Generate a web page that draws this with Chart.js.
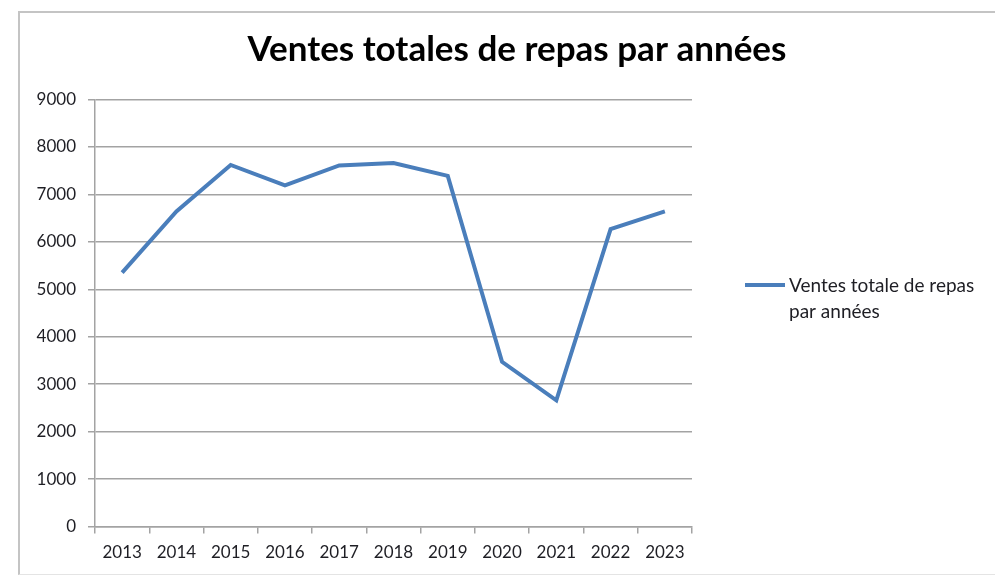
<!DOCTYPE html>
<html>
<head>
<meta charset="utf-8">
<script src="https://cdn.jsdelivr.net/npm/chart.js@4/dist/chart.umd.min.js"></script>
<style>
  html, body { margin: 0; padding: 0; background: #fff; }
  #wrap { position: relative; width: 995px; height: 577px; overflow: hidden; background: #fff; }
  #frame { position: absolute; left: 18px; top: 11px; width: 1100px; height: 564px;
           border-left: 2px solid #c4c4c4; border-top: 2px solid #c4c4c4; border-bottom: 1px solid #e4e4e4; box-sizing: border-box; }
  canvas { position: absolute; left: 0; top: 0; }
</style>
</head>
<body>
<div id="wrap">
  <div id="frame"></div>
  <canvas id="c" width="995" height="577"></canvas>
</div>
<script>
const chartTitle = 'Ventes totales de repas par années';
const seriesLabel = ['Ventes totale de repas', 'par années'];
const years = ['2013', '2014', '2015', '2016', '2017', '2018', '2019', '2020', '2021', '2022', '2023'];
const sales = [5350, 6640, 7620, 7190, 7610, 7660, 7390, 3470, 2660, 6270, 6640];
const yMin = 0;
const yMax = 9000;
const yStep = 1000;

const lineColor = '#4a7ebb';
const axisColor = '#a3a3a3';
const textColor = '#1e1e24';

const decorPlugin = {
  id: 'decor',
  afterDraw(chart) {
    const ctx = chart.ctx;
    const area = chart.chartArea;
    ctx.save();
    // title
    ctx.fillStyle = '#000';
    ctx.font = 'bold 35px Lato';
    ctx.textAlign = 'center';
    ctx.textBaseline = 'middle';
    ctx.fillText(chartTitle, 517, 50);
    // legend
    const x0 = area.right + 53;
    const y0 = 285;
    ctx.strokeStyle = lineColor;
    ctx.lineWidth = 4;
    ctx.lineCap = 'butt';
    ctx.beginPath();
    ctx.moveTo(x0, y0);
    ctx.lineTo(x0 + 40, y0);
    ctx.stroke();
    ctx.fillStyle = textColor;
    ctx.font = '19px Lato';
    ctx.textBaseline = 'middle';
    ctx.textAlign = 'left';
    seriesLabel.forEach((t, i) => ctx.fillText(t, x0 + 44, y0 + 1 + i * 26));
    ctx.restore();
  }
};

new Chart(document.getElementById('c'), {
  type: 'line',
  data: {
    labels: years,
    datasets: [{
      label: seriesLabel.join(' '),
      data: sales,
      borderColor: lineColor,
      backgroundColor: lineColor,
      borderWidth: 4,
      pointRadius: 0,
      tension: 0,
      fill: false
    }]
  },
  options: {
    responsive: false,
    animation: false,
    layout: { padding: { left: 0, right: 303, top: 99.5, bottom: 0 } },
    plugins: {
      legend: { display: false },
      tooltip: { enabled: false },
      title: { display: false }
    },
    scales: {
      x: {
        type: 'category',
        offset: true,
        grid: { offset: true, drawOnChartArea: false, drawTicks: true, tickLength: 7, color: axisColor, lineWidth: 1.5 },
        border: { display: true, color: axisColor, width: 1.5 },
        ticks: { color: textColor, font: { family: 'Lato', size: 17 }, padding: 9, maxRotation: 0, autoSkip: false },
        afterFit(s) { s.height = 50.5; }
      },
      y: {
        min: yMin,
        max: yMax,
        grid: { color: axisColor, lineWidth: 1.5, tickLength: 7, drawTicks: true },
        border: { display: true, color: axisColor, width: 1.5 },
        ticks: { stepSize: yStep, color: textColor, font: { family: 'Lato', size: 17 }, padding: 12,
                 callback: v => String(v) },
        afterFit(s) { s.width = 95; }
      }
    }
  },
  plugins: [decorPlugin]
});
</script>
</body>
</html>
